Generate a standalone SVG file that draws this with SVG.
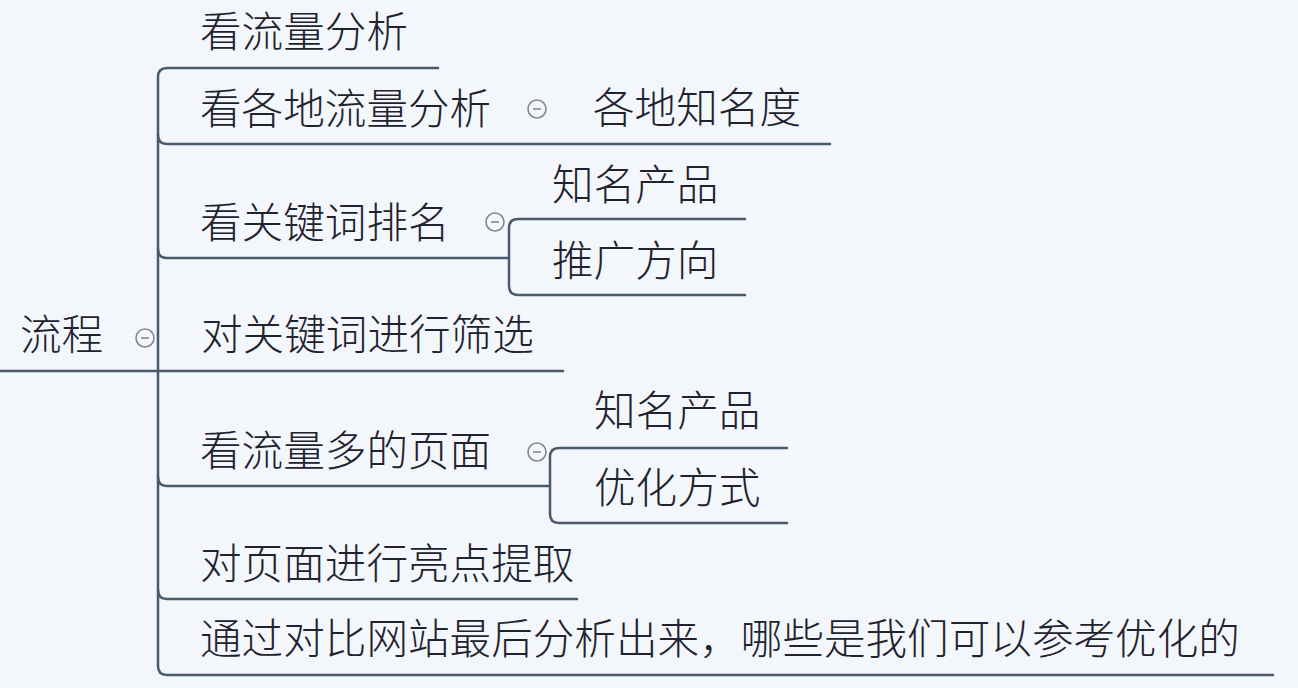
<svg xmlns="http://www.w3.org/2000/svg" width="1298" height="688" viewBox="0 0 1298 688">
<style>
.t{font-family:"Noto Sans CJK SC","Noto Sans",sans-serif;font-size:41.6px;font-weight:300;fill:#22222e}
.c{fill:none;stroke:#4b596c;stroke-width:2.5;stroke-linecap:round;stroke-linejoin:round}
.k circle{fill:#f3f7fc;stroke:#85878c;stroke-width:1.6}
.k line{stroke:#85878c;stroke-width:1.6}
</style>
<rect width="1298" height="688" fill="#f3f7fc"/>
<g id="connectors" class="c">
<path d="M0 371 H158"/>
<path d="M438 68 H167 Q158 68 158 77 V666 Q158 675 167 675 H1273"/>
<path d="M158 135 Q158 144 167 144 H830"/>
<path d="M158 249 Q158 258 167 258 H509"/>
<path d="M158 371 H563"/>
<path d="M158 477 Q158 486 167 486 H550"/>
<path d="M158 590 Q158 599 167 599 H577"/>
<path d="M745 219 H518 Q509 219 509 228 V286 Q509 295 518 295 H745"/>
<path d="M787 448 H559 Q550 448 550 457 V514 Q550 523 559 523 H787"/>
</g>
<g id="root"><text class="t" x="20" y="350">流程</text><g class="k"><circle cx="145" cy="338" r="9"/><line x1="141" y1="338" x2="149" y2="338"/></g></g>
<g id="n1"><text class="t" x="200" y="47">看流量分析</text></g>
<g id="n2"><text class="t" x="200" y="124">看各地流量分析</text><g class="k"><circle cx="537" cy="109" r="9"/><line x1="533" y1="109" x2="541" y2="109"/></g></g>
<g id="n2a"><text class="t" x="593" y="123">各地知名度</text></g>
<g id="n3"><text class="t" x="200" y="238">看关键词排名</text><g class="k"><circle cx="495" cy="222" r="9"/><line x1="491" y1="222" x2="499" y2="222"/></g></g>
<g id="n3a"><text class="t" x="552" y="200">知名产品</text></g>
<g id="n3b"><text class="t" x="552" y="276">推广方向</text></g>
<g id="n4"><text class="t" x="201" y="350">对关键词进行筛选</text></g>
<g id="n5"><text class="t" x="200" y="466">看流量多的页面</text><g class="k"><circle cx="537" cy="452" r="9"/><line x1="533" y1="452" x2="541" y2="452"/></g></g>
<g id="n5a"><text class="t" x="594" y="426">知名产品</text></g>
<g id="n5b"><text class="t" x="594" y="503">优化方式</text></g>
<g id="n6"><text class="t" x="200" y="579">对页面进行亮点提取</text></g>
<g id="n7"><text class="t" x="200" y="654">通过对比网站最后分析出来，哪些是我们可以参考优化的</text></g>
</svg>
